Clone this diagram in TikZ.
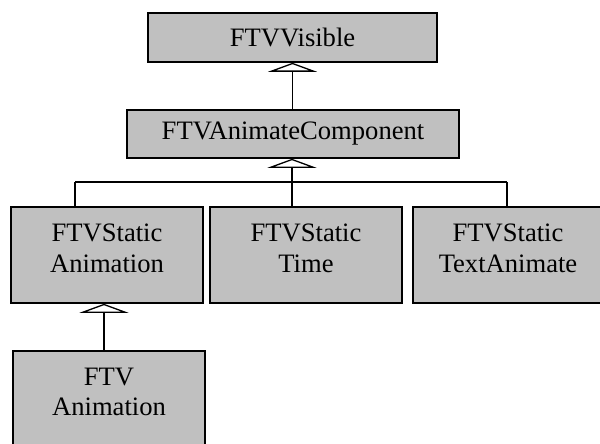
\documentclass[tikz,border=0pt]{standalone}
\usepackage{fontspec}
\setmainfont{Liberation Serif}
\usepackage{tikz}
\usepackage{xcolor}
\usetikzlibrary{arrows.meta}
\definecolor{boxgray}{RGB}{192,192,192}
\tikzstyle{cls} = [rectangle, draw, line width=1.6pt, fill=boxgray, inner sep=0pt, align=center, font=\fontsize{26.6pt}{30.5pt}\selectfont]
\tikzstyle{tall} = [cls, minimum width=192pt, minimum height=96pt, text depth=14pt]
\tikzstyle{line} = [draw, line width=1.3pt]
\tikzstyle{inherit} = [draw, line width=1.3pt, -{Triangle[open, length=9pt, width=49pt, line width=1.3pt]}]

\begin{document}
\begin{tikzpicture}[x=1pt, y=-1pt]
    \useasboundingbox (0,0) rectangle (600,444);
    % Nodes
    \node [cls, minimum width=289pt, minimum height=49pt] (visible) at (292.5,37.5) {FTVVisible};
    \node [cls, minimum width=332pt, minimum height=48pt] (animcomp) at (293,134) {FTVAnimateComponent};
    \node [tall] (staticanim) at (107,255) {FTVStatic\\Animation};
    \node [tall] (statictime) at (306,255) {FTVStatic\\Time};
    \node [tall, minimum width=190pt] (statictext) at (508,255) {FTVStatic\\TextAnimate};
    \node [tall] (ftvanim) at (109,399) {FTV\\Animation};

    \coordinate (busL) at (75,182);
    \coordinate (busM) at (292,182);
    \coordinate (busR) at (507,182);
    \coordinate (animtop) at (104,351);

    % Lines
    \path [inherit] (animcomp.north -| visible.south) -- (visible.south);
    \path [inherit] (busM) -- (busM |- animcomp.south);
    \path [line] (busL) -- (busR);
    \path [line] (busL) -- (busL |- staticanim.north);
    \path [line] (busM) -- (busM |- statictime.north);
    \path [line] (busR) -- (busR |- statictext.north);
    \path [inherit] (animtop) -- (animtop |- staticanim.south);

\end{tikzpicture}
\end{document}
